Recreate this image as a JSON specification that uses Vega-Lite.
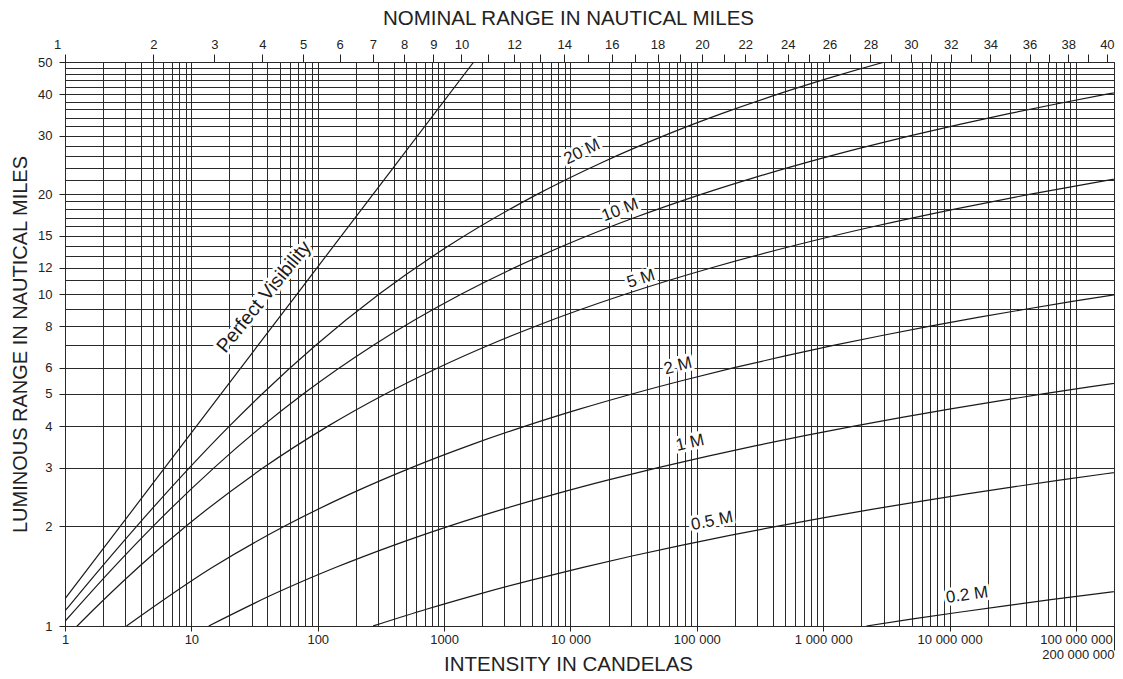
{
  "$schema": "https://vega.github.io/schema/vega-lite/v6.json",
  "width": 1049,
  "height": 564,
  "autosize": "none",
  "padding": {"left": 65, "top": 62, "right": 9, "bottom": 53},
  "background": "white",
  "config": {
    "font": "Liberation Sans",
    "view": {"stroke": "#222", "strokeWidth": 1},
    "axis": {"labelFont": "Liberation Sans", "titleFont": "Liberation Sans", "labelColor": "#222", "titleColor": "#222", "titleFontWeight": "normal", "tickColor": "#222", "domainColor": "#222", "labelFontSize": 13, "titleFontSize": 20.5}
  },
  "datasets": {
    "curves": [
      {"curve": "PV", "D": 1, "I": 0.686}, {"curve": "PV", "D": 10, "I": 68.6}, {"curve": "PV", "D": 50, "I": 1715},
      {"curve": "20", "D": 1, "I": 0.797}, {"curve": "20", "D": 1.5, "I": 1.932}, {"curve": "20", "D": 2, "I": 3.702}, {"curve": "20", "D": 3, "I": 9.676}, {"curve": "20", "D": 4, "I": 19.98}, {"curve": "20", "D": 5, "I": 36.27}, {"curve": "20", "D": 7, "I": 95.92}, {"curve": "20", "D": 10, "I": 306.8}, {"curve": "20", "D": 14, "I": 1095}, {"curve": "20", "D": 20, "I": 5488}, {"curve": "20", "D": 25, "I": 18140}, {"curve": "20", "D": 30, "I": 55240}, {"curve": "20", "D": 35, "I": 158950}, {"curve": "20", "D": 40, "I": 439100}, {"curve": "20", "D": 45, "I": 1175000}, {"curve": "20", "D": 50, "I": 3067000}, {"curve": "20", "D": 52, "I": 4500000},
      {"curve": "10", "D": 1, "I": 0.926}, {"curve": "10", "D": 1.5, "I": 2.418}, {"curve": "10", "D": 2, "I": 4.995}, {"curve": "10", "D": 3, "I": 15.17}, {"curve": "10", "D": 4, "I": 36.38}, {"curve": "10", "D": 5, "I": 76.7}, {"curve": "10", "D": 7, "I": 273.6}, {"curve": "10", "D": 10, "I": 1372}, {"curve": "10", "D": 14, "I": 8913}, {"curve": "10", "D": 17, "I": 32280}, {"curve": "10", "D": 20, "I": 109700}, {"curve": "10", "D": 22.5, "I": 293800}, {"curve": "10", "D": 25, "I": 767000}, {"curve": "10", "D": 27.5, "I": 1963000}, {"curve": "10", "D": 30, "I": 4937000}, {"curve": "10", "D": 32.5, "I": 12260000}, {"curve": "10", "D": 35, "I": 30060000}, {"curve": "10", "D": 37.5, "I": 73000000}, {"curve": "10", "D": 40, "I": 175600000}, {"curve": "10", "D": 41, "I": 248900000},
      {"curve": "5", "D": 0.9, "I": 0.953}, {"curve": "5", "D": 1, "I": 1.249}, {"curve": "5", "D": 1.5, "I": 3.792}, {"curve": "5", "D": 2, "I": 9.095}, {"curve": "5", "D": 3, "I": 37.26}, {"curve": "5", "D": 4, "I": 120.6}, {"curve": "5", "D": 5, "I": 343}, {"curve": "5", "D": 6, "I": 899}, {"curve": "5", "D": 7, "I": 2228}, {"curve": "5", "D": 8, "I": 5298}, {"curve": "5", "D": 10, "I": 27440}, {"curve": "5", "D": 12, "I": 131000}, {"curve": "5", "D": 14, "I": 590700}, {"curve": "5", "D": 16, "I": 2557000}, {"curve": "5", "D": 18, "I": 10730000}, {"curve": "5", "D": 20, "I": 43900000}, {"curve": "5", "D": 22, "I": 176100000}, {"curve": "5", "D": 23, "I": 350300000},
      {"curve": "2", "D": 1, "I": 3.067}, {"curve": "2", "D": 1.5, "I": 14.6}, {"curve": "2", "D": 2, "I": 54.88}, {"curve": "2", "D": 2.5, "I": 181.4}, {"curve": "2", "D": 3, "I": 552.4}, {"curve": "2", "D": 3.5, "I": 1589}, {"curve": "2", "D": 4, "I": 4391}, {"curve": "2", "D": 4.5, "I": 11750}, {"curve": "2", "D": 5, "I": 30680}, {"curve": "2", "D": 5.5, "I": 78500}, {"curve": "2", "D": 6, "I": 197500}, {"curve": "2", "D": 6.5, "I": 490500}, {"curve": "2", "D": 7, "I": 1203000}, {"curve": "2", "D": 7.5, "I": 2920000}, {"curve": "2", "D": 8, "I": 7024000}, {"curve": "2", "D": 8.5, "I": 16770000}, {"curve": "2", "D": 9, "I": 39760000}, {"curve": "2", "D": 9.5, "I": 93670000}, {"curve": "2", "D": 10, "I": 219600000},
      {"curve": "1", "D": 1, "I": 13.72}, {"curve": "1", "D": 1.25, "I": 45.34}, {"curve": "1", "D": 1.5, "I": 138}, {"curve": "1", "D": 1.75, "I": 397.4}, {"curve": "1", "D": 2, "I": 1097}, {"curve": "1", "D": 2.25, "I": 2938}, {"curve": "1", "D": 2.5, "I": 7670}, {"curve": "1", "D": 2.75, "I": 19630}, {"curve": "1", "D": 3, "I": 49380}, {"curve": "1", "D": 3.25, "I": 122600}, {"curve": "1", "D": 3.5, "I": 300700}, {"curve": "1", "D": 3.75, "I": 730000}, {"curve": "1", "D": 4, "I": 1756000}, {"curve": "1", "D": 4.25, "I": 4194000}, {"curve": "1", "D": 4.5, "I": 9940000}, {"curve": "1", "D": 4.75, "I": 23420000}, {"curve": "1", "D": 5, "I": 54880000}, {"curve": "1", "D": 5.25, "I": 127900000}, {"curve": "1", "D": 5.5, "I": 297000000},
      {"curve": "0.5", "D": 1, "I": 274.4}, {"curve": "0.5", "D": 1.125, "I": 734.3}, {"curve": "0.5", "D": 1.25, "I": 1917}, {"curve": "0.5", "D": 1.375, "I": 4906}, {"curve": "0.5", "D": 1.5, "I": 12350}, {"curve": "0.5", "D": 1.625, "I": 30650}, {"curve": "0.5", "D": 1.75, "I": 75160}, {"curve": "0.5", "D": 1.875, "I": 182500}, {"curve": "0.5", "D": 2, "I": 439100}, {"curve": "0.5", "D": 2.125, "I": 1048000}, {"curve": "0.5", "D": 2.25, "I": 2485000}, {"curve": "0.5", "D": 2.375, "I": 5855000}, {"curve": "0.5", "D": 2.5, "I": 13720000}, {"curve": "0.5", "D": 2.625, "I": 31990000}, {"curve": "0.5", "D": 2.75, "I": 74250000}, {"curve": "0.5", "D": 2.875, "I": 171600000}, {"curve": "0.5", "D": 3, "I": 395200000},
      {"curve": "0.2", "D": 1, "I": 2196000}, {"curve": "0.2", "D": 1.05, "I": 5119000}, {"curve": "0.2", "D": 1.1, "I": 11880000}, {"curve": "0.2", "D": 1.15, "I": 27460000}, {"curve": "0.2", "D": 1.2, "I": 63200000}, {"curve": "0.2", "D": 1.25, "I": 145100000}, {"curve": "0.2", "D": 1.3, "I": 331800000}
    ],
    "labels": [
      {"label": "Perfect Visibility", "I": 37.5, "D": 9.8},
      {"label": "20 M", "I": 12330, "D": 26.8},
      {"label": "10 M", "I": 24660, "D": 17.9},
      {"label": "5 M", "I": 36140, "D": 11.1},
      {"label": "2 M", "I": 70970, "D": 6.07},
      {"label": "1 M", "I": 88300, "D": 3.56},
      {"label": "0.5 M", "I": 131800, "D": 2.07},
      {"label": "0.2 M", "I": 13740000, "D": 1.24}
    ]
  },
  "layer": [
    {
      "data": {"name": "curves"},
      "mark": {"type": "line", "interpolate": "monotone", "clip": true, "color": "#1a1a1a", "strokeWidth": 1.2},
      "encoding": {
        "x": {
          "field": "I", "type": "quantitative",
          "scale": {"type": "log", "domain": [1, 200000000], "nice": false},
          "axis": {
            "values": [1,2,3,4,5,6,7,8,9,10,20,30,40,50,60,70,80,90,100,200,300,400,500,600,700,800,900,1000,2000,3000,4000,5000,6000,7000,8000,9000,10000,20000,30000,40000,50000,60000,70000,80000,90000,100000,200000,300000,400000,500000,600000,700000,800000,900000,1000000,2000000,3000000,4000000,5000000,6000000,7000000,8000000,9000000,10000000,20000000,30000000,40000000,50000000,60000000,70000000,80000000,90000000,100000000,200000000],
            "grid": true, "gridColor": "#2a2a2a", "gridOpacity": 1, "gridWidth": 1,
            "ticks": false, "labels": false, "domain": false, "title": null
          }
        },
        "y": {
          "field": "D", "type": "quantitative",
          "scale": {"type": "log", "domain": [1, 50], "nice": false},
          "axis": {
            "values": [1,2,3,4,5,6,7,8,9,10,11,12,13,14,15,16,17,18,19,20,22,24,26,28,30,32,34,36,38,40,42,44,46,48,50],
            "grid": true, "gridColor": "#2a2a2a", "gridOpacity": 1, "gridWidth": 1,
            "ticks": false, "labels": false, "domain": false, "title": null
          }
        },
        "detail": {"field": "curve", "type": "nominal"}
      }
    },
    {
      "data": {"name": "labels"},
      "mark": {"type": "text", "fill": "white", "stroke": "white", "strokeWidth": 6, "strokeJoin": "round", "font": "Liberation Sans"},
      "encoding": {
        "x": {
          "field": "I", "type": "quantitative",
          "axis": {
            "orient": "bottom",
            "values": [1,10,100,1000,10000,100000,1000000,10000000,100000000,200000000],
            "labelExpr": "['1','10','100','1000','10 000','100 000','1 000 000','10 000 000','100 000 000','200 000 000'][round(datum.index*9)]",
            "labelFlush": false, "labelOverlap": false,
            "labelAlign": {"condition": {"test": "datum.value > 150000000", "value": "right"}, "value": "center"},
            "tickSize": {"condition": {"test": "datum.value > 150000000", "value": 24}, "value": 5},
            "labelPadding": {"condition": {"test": "datum.value > 150000000", "value": -2}, "value": 2},
            "grid": false, "domain": false,
            "title": "INTENSITY IN CANDELAS", "titleX": 503, "titleY": 44, "titleBaseline": "alphabetic", "titleAlign": "center", "titleAnchor": null
          }
        },
        "y": {
          "field": "D", "type": "quantitative",
          "axis": {
            "orient": "left",
            "values": [1,2,3,4,5,6,8,10,12,15,20,30,40,50],
            "tickSize": 6, "labelPadding": 7, "grid": false, "domain": false,
            "title": "LUMINOUS RANGE IN NAUTICAL MILES", "titleFontSize": 20, "titleX": -39, "titleY": 282, "titleAngle": -90, "titleBaseline": "alphabetic", "titleAlign": "center", "titleAnchor": null
          }
        },
        "text": {"field": "label", "type": "nominal"},
        "angle": {"field": "label", "type": "nominal", "scale": {"type": "ordinal", "domain": ["Perfect Visibility", "20 M", "10 M", "5 M", "2 M", "1 M", "0.5 M", "0.2 M"], "range": [309, 334, 339, 342, 345.5, 347, 348.5, 352]}, "legend": null},
        "size": {"field": "label", "type": "nominal", "scale": {"type": "ordinal", "domain": ["Perfect Visibility", "20 M", "10 M", "5 M", "2 M", "1 M", "0.5 M", "0.2 M"], "range": [19.5, 17, 17, 17, 17, 17, 17, 17]}, "legend": null}
      }
    },
    {
      "data": {"name": "labels"},
      "mark": {"type": "text", "fill": "#1a1a1a", "font": "Liberation Sans"},
      "encoding": {
        "x": {
          "field": "I", "type": "quantitative",
          "axis": {
            "orient": "top",
            "values": [1,4.995,15.17,36.38,76.7,149,273.6,482.3,823.7,1372,2239,3596,5692,8913,13800,21200,32280,48830,73410,109700,163300,241800,356600,523800,767000,1119000,1628000,2363000,3421000,4938000,7116000,10230000,14680000,21020000,30060000,42910000,61150000,87060000,123700000,175600000],
            "labelExpr": "['1','2','3','4','5','6','7','8','9','10','','12','','14','','16','','18','','20','','22','','24','','26','','28','','30','','32','','34','','36','','38','','40'][round(datum.index*39)]",
            "labelFlush": false, "labelOverlap": false,
            "labelOffset": {"condition": {"test": "datum.value < 1.5", "value": -8}, "value": 0},
            "tickSize": 8, "labelPadding": 3, "grid": false, "domain": false,
            "title": "NOMINAL RANGE IN NAUTICAL MILES", "titleX": 503, "titleY": -37.5, "titleBaseline": "alphabetic", "titleAlign": "center", "titleAnchor": null
          }
        },
        "y": {"field": "D", "type": "quantitative", "axis": null},
        "text": {"field": "label", "type": "nominal"},
        "angle": {"field": "label", "type": "nominal", "scale": {"type": "ordinal", "domain": ["Perfect Visibility", "20 M", "10 M", "5 M", "2 M", "1 M", "0.5 M", "0.2 M"], "range": [309, 334, 339, 342, 345.5, 347, 348.5, 352]}, "legend": null},
        "size": {"field": "label", "type": "nominal", "scale": {"type": "ordinal", "domain": ["Perfect Visibility", "20 M", "10 M", "5 M", "2 M", "1 M", "0.5 M", "0.2 M"], "range": [19.5, 17, 17, 17, 17, 17, 17, 17]}, "legend": null}
      }
    }
  ],
  "resolve": {"axis": {"x": "independent", "y": "independent"}}
}
